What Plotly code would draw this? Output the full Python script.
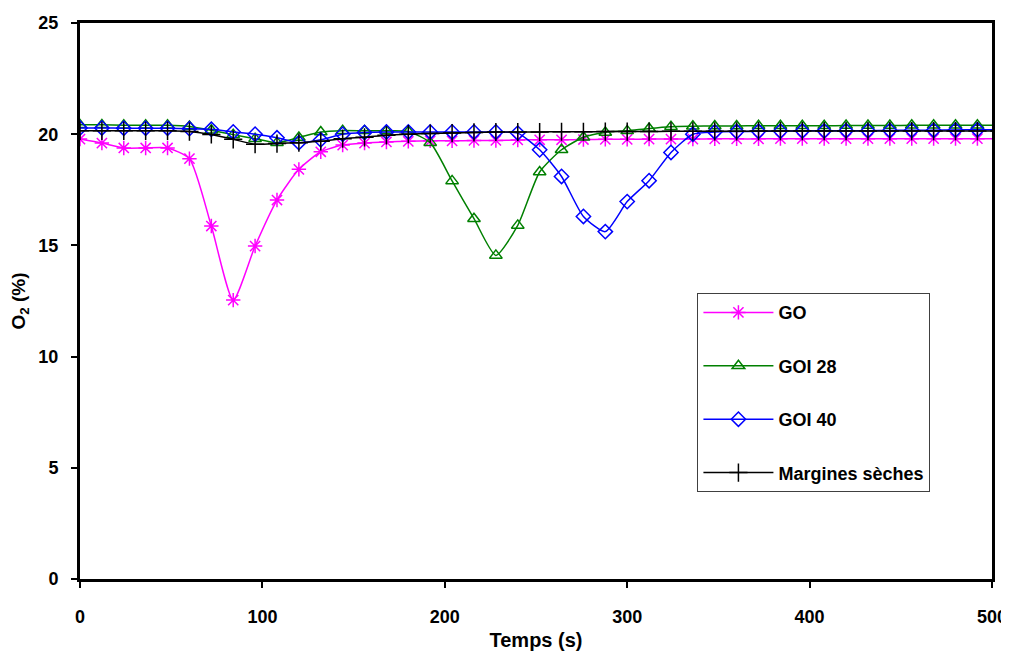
import plotly.graph_objects as go

# time axis (s), one reading every 12 s
temps = [0, 12, 24, 36, 48, 60, 72, 84, 96, 108, 120, 132, 144, 156, 168, 180,
         192, 204, 216, 228, 240, 252, 264, 276, 288, 300, 312, 324, 336, 348,
         360, 372, 384, 396, 408, 420, 432, 444, 456, 468, 480, 492, 504]

go_o2 = [19.78, 19.6, 19.38, 19.38, 19.38, 18.9, 15.87, 12.54, 14.97, 17.04,
         18.42, 19.21, 19.51, 19.6, 19.65, 19.68, 19.7, 19.7, 19.72, 19.72,
         19.74, 19.75, 19.75, 19.76, 19.77, 19.77, 19.78, 19.78, 19.78, 19.79,
         19.79, 19.79, 19.8, 19.8, 19.8, 19.8, 19.8, 19.8, 19.8, 19.8,
         19.8, 19.8, 19.8]

goi28_o2 = [20.42, 20.42, 20.4, 20.4, 20.4, 20.35, 20.18, 19.98, 19.8, 19.62,
            19.85, 20.1, 20.16, 20.15, 20.15, 20.12, 19.62, 17.9, 16.2, 14.55,
            15.9, 18.3, 19.3, 19.86, 20.08, 20.15, 20.26, 20.34, 20.36, 20.37,
            20.37, 20.38, 20.38, 20.38, 20.38, 20.39, 20.39, 20.39, 20.4, 20.4,
            20.4, 20.4, 20.4]

goi40_o2 = [20.28, 20.28, 20.27, 20.27, 20.27, 20.25, 20.22, 20.1, 20.0, 19.84,
            19.62, 19.75, 20.0, 20.08, 20.1, 20.1, 20.1, 20.1, 20.1, 20.1,
            20.05, 19.3, 18.1, 16.3, 15.62, 16.97, 17.91, 19.18, 20.0, 20.1,
            20.12, 20.13, 20.14, 20.15, 20.15, 20.16, 20.16, 20.17, 20.18, 20.18,
            20.19, 20.2, 20.2]

margines_o2 = [20.15, 20.15, 20.15, 20.15, 20.15, 20.12, 19.99, 19.77, 19.55, 19.58,
               19.62, 19.68, 19.8, 19.86, 19.95, 20.0, 20.03, 20.05, 20.08, 20.1,
               20.1, 20.1, 20.11, 20.11, 20.12, 20.12, 20.12, 20.13, 20.13, 20.13,
               20.13, 20.14, 20.14, 20.14, 20.14, 20.14, 20.14, 20.14, 20.14, 20.14,
               20.14, 20.14, 20.14]

series = [
    ("GO", go_o2, "#FF00FF", "asterisk-open", 12),
    ("GOI 28", goi28_o2, "#008000", "triangle-up-open", 11),
    ("GOI 40", goi40_o2, "#0000FF", "diamond-open", 11),
    ("Margines sèches", margines_o2, "#000000", "cross-thin-open", 13),
]

fig = go.Figure()
for name, vals, color, symbol, size in series:
    fig.add_trace(go.Scatter(
        x=temps, y=vals, name=name, legendgroup=name,
        mode="lines+markers",
        line=dict(color=color, width=1.5, shape="spline", smoothing=0.6),
        marker=dict(symbol=symbol, size=size, color=color,
                    line=dict(color=color, width=1.5)),
    ))

# page body adds an 8 px offset; keep the page from scrolling
fig.update_layout(
    width=1001, height=643,
    margin=dict(l=72, r=17, t=15, b=72),
    paper_bgcolor="white", plot_bgcolor="white",
    font=dict(family="Liberation Sans, Arial, sans-serif", color="black"),
    legend=dict(
        x=0.677, y=0.514, xanchor="left", yanchor="top",
        bordercolor="#404040", borderwidth=1, bgcolor="white",
        font=dict(size=18, family="Liberation Sans, Arial, sans-serif", weight="bold"),
        tracegroupgap=27, itemwidth=70,
        entrywidth=178, entrywidthmode="pixels",
    ),
)

fig.update_xaxes(
    range=[0, 500], tickvals=[0, 100, 200, 300, 400, 500],
    showgrid=False, zeroline=False, automargin=False,
    showline=True, linecolor="black", linewidth=3, mirror=True,
    ticks="outside", ticklen=6, tickwidth=2, tickcolor="black",
    ticklabelstandoff=13,
    tickfont=dict(size=18, weight="bold"),
    title=dict(text="Temps (s)", font=dict(size=20, weight="bold"), standoff=16),
)
fig.update_yaxes(
    range=[0, 25], tickvals=[0, 5, 10, 15, 20, 25],
    showgrid=False, zeroline=False, automargin=False,
    showline=True, linecolor="black", linewidth=3, mirror=True,
    ticks="outside", ticklen=6, tickwidth=2, tickcolor="black",
    ticklabelstandoff=9,
    tickfont=dict(size=18, weight="bold"),
    title=dict(text="O<sub>2</sub> (%)", font=dict(size=19, weight="bold"), standoff=12),
)

fig.write_html("out.html")
